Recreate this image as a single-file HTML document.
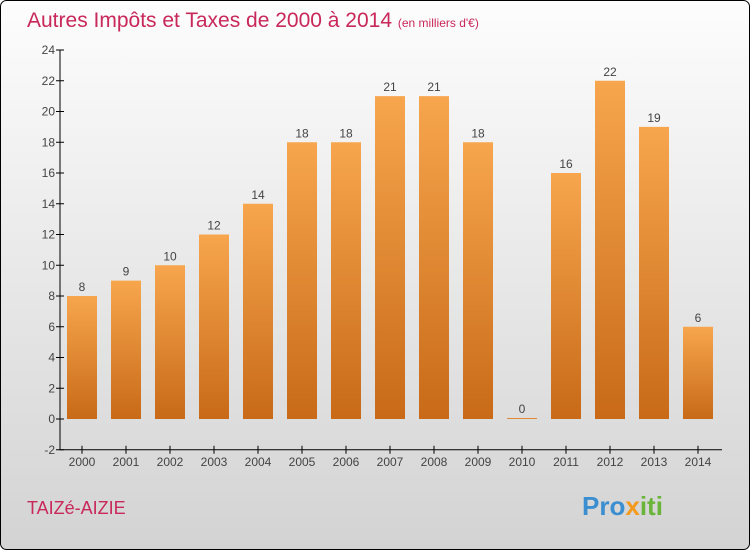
<!DOCTYPE html>
<html><head><meta charset="utf-8"><style>
body{margin:0;width:750px;height:550px;overflow:hidden}
svg text{font-family:"Liberation Sans",sans-serif}
</style></head><body>
<svg width="750" height="550" xmlns="http://www.w3.org/2000/svg">
<defs>
<linearGradient id="bg" x1="0" y1="0" x2="0" y2="1"><stop offset="0" stop-color="#fdfdfd"/><stop offset="1" stop-color="#d3d3d3"/></linearGradient>
<linearGradient id="bar" x1="0" y1="0" x2="0" y2="1"><stop offset="0" stop-color="#f7a64d"/><stop offset="1" stop-color="#c86a18"/></linearGradient>
</defs>
<rect x="0.5" y="0.5" width="749" height="549" rx="6" fill="url(#bg)" stroke="#000"/>
<text x="27" y="27" font-size="21" fill="#c8285a">Autres Impôts et Taxes de 2000 à 2014 <tspan font-size="12">(en milliers d'€)</tspan></text>
<g id="plot"></g>
<text x="27" y="514" font-size="18" fill="#c8285a">TAIZé-AIZIE</text>
<text x="582" y="515" font-size="26" font-weight="bold" fill="#3b8fd1">Pro<tspan fill="#f39a1d">x</tspan><tspan fill="#6ab539">iti</tspan></text>
</svg>
<script>
const years=["2000","2001","2002","2003","2004","2005","2006","2007","2008","2009","2010","2011","2012","2013","2014"];
const values=[8,9,10,12,14,18,18,21,21,18,0,16,22,19,6];
const yTicks=[-2,0,2,4,6,8,10,12,14,16,18,20,22,24];
const NS="http://www.w3.org/2000/svg";
const g=document.getElementById('plot');
const y0=419,unit=15.375,x0=82,step=44,bw=30;
const Y=v=>y0-v*unit, X=i=>x0+i*step;
function el(t,a){const e=document.createElementNS(NS,t);for(const k in a)e.setAttribute(k,a[k]);g.appendChild(e);return e;}
const ax=el('path',{d:`M60 ${Y(24)}V${Y(-2)}H722`,stroke:'#000',fill:'none'});


yTicks.forEach(v=>{
  const t=el('line',{x1:56,x2:64,y1:Y(v),y2:Y(v),stroke:'#000'});
  
  
  const l=el('text',{x:55,y:Y(v)+4,'font-size':12,fill:'#444','text-anchor':'end'});
  l.textContent=v;
  
  
});
years.forEach((yr,i)=>{
  const v=values[i],top=Y(Math.max(v,0)),h=Math.max(Math.abs(Y(v)-Y(0)),1);
  const b=el('rect',{x:X(i)-bw/2,y:v===0?Y(0)-1:top,width:bw,height:h,fill:'url(#bar)'});
  
  
  const vl=el('text',{x:X(i),y:(v===0?Y(0)-1:top)-5,'font-size':12,fill:'#444','text-anchor':'middle'});
  vl.textContent=v;
  
  
  const t=el('line',{x1:X(i),x2:X(i),y1:Y(-2)-4,y2:Y(-2)+4,stroke:'#000'});
  
  
  const xl=el('text',{x:X(i),y:Y(-2)+16,'font-size':12,fill:'#444','text-anchor':'middle'});
  xl.textContent=yr;
  
  
});
</script>
</body></html>
